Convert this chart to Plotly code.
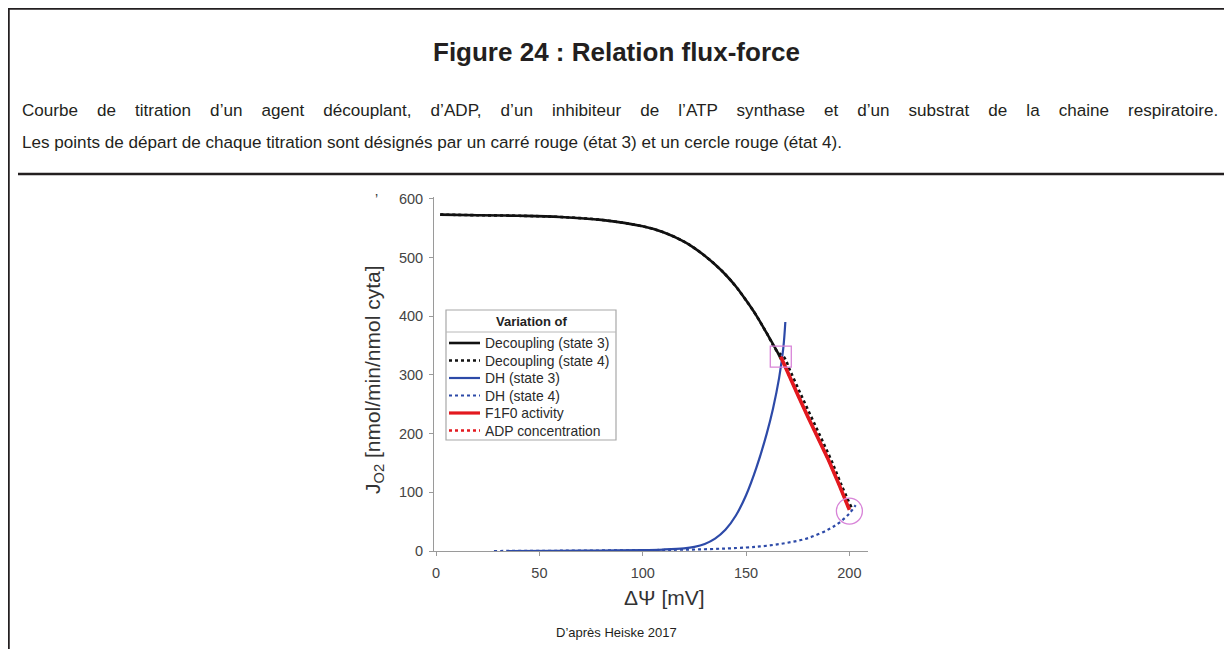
import plotly.graph_objects as go

# ---------------- data ----------------
dec3_x = [2, 20, 40, 60, 80, 100, 110, 120, 125, 130, 135, 140, 145, 150, 155, 160, 165, 167]
dec3_y = [573, 572, 571, 569, 564, 553, 543, 527, 516, 503, 488, 471, 451, 427, 401, 371, 340, 326]

dec4_x = [2, 20, 40, 60, 80, 100, 110, 120, 125, 130, 135, 140, 145, 150, 155, 160, 165, 168.2, 171.6, 176.6, 181.6, 186.5, 191.3, 196.1, 201]
dec4_y = [573, 572, 571, 569, 564, 553, 543, 527, 516, 503, 488, 471, 451, 427, 401, 371, 340, 331, 305, 266, 228, 191, 154, 113, 74]

dh3_x = [35, 60, 80, 100, 110, 120, 125, 130, 135, 140, 145, 150, 155, 160, 163, 166, 168, 169]
dh3_y = [0, 0.3, 0.8, 1.5, 2.5, 4.5, 7, 12, 21, 36, 60, 95, 142, 200, 242, 295, 345, 390]

dh4_x = [28, 60, 100, 130, 150, 160, 170, 180, 190, 195, 200, 203]
dh4_y = [0, 0.5, 1.5, 3, 6, 9, 14, 22, 37, 48, 64, 78]

f1f0_x = [166.8, 170, 175, 180, 185, 190, 195, 200]
f1f0_y = [331, 305, 266, 228, 191, 154, 113, 70]

adp_x = f1f0_x
adp_y = f1f0_y

state3_start = (166.8, 331)
state4_start = (200, 68)

x_ticks = [0, 50, 100, 150, 200]
y_ticks = [0, 100, 200, 300, 400, 500, 600]

# ---------------- layout helpers ----------------
OFF = 8                      # page margin of the html body
W, H = 1232 - OFF, 649 - OFF
# plot area, in page pixels
L, R, T, B = 434, 868, 197, 551


def px(xp):
    return (xp - L) / (R - L)


def py(yp):
    return (B - yp) / (B - T)


FONT = "Arial, Liberation Sans, Helvetica, sans-serif"
BLACK = "#111111"
BLUE = "#2d4aa8"
RED = "#e3191f"
PINK = "#d884d8"

series = [
    (dec3_x, dec3_y, "Decoupling (state 3)", BLACK, 2.6, "solid"),
    (dec4_x, dec4_y, "Decoupling (state 4)", BLACK, 2.6, "dot"),
    (dh3_x, dh3_y, "DH (state 3)", BLUE, 2.2, "solid"),
    (dh4_x, dh4_y, "DH (state 4)", BLUE, 2.2, "dot"),
    (f1f0_x, f1f0_y, "F1F0 activity", RED, 3.6, "solid"),
    (adp_x, adp_y, "ADP concentration", RED, 2.6, "dot"),
]

fig = go.Figure()
for xs, ys, name, col, wd, dash in series:
    fig.add_trace(go.Scatter(x=xs, y=ys, mode="lines", name=name, showlegend=False,
                             line=dict(color=col, width=wd, dash=dash,
                                       shape="spline" if "F1F0" not in name and "ADP" not in name else "linear")))
fig.add_trace(go.Scatter(x=[state3_start[0]], y=[state3_start[1]], mode="markers", showlegend=False,
                         marker=dict(symbol="square-open", size=21, color=PINK, line=dict(width=1.3, color=PINK))))
fig.add_trace(go.Scatter(x=[state4_start[0]], y=[state4_start[1]], mode="markers", showlegend=False,
                         marker=dict(symbol="circle-open", size=26, color=PINK, line=dict(width=1.3, color=PINK))))

axis_common = dict(showgrid=False, zeroline=False, showline=True, linecolor="#9a9a9a", linewidth=1,
                   ticks="outside", ticklen=4, tickcolor="#9a9a9a",
                   tickfont=dict(family=FONT, size=14.5, color="#444444"))

fig.update_layout(
    width=W, height=H,
    margin=dict(l=L - OFF, r=W - (R - OFF), t=T - OFF, b=H - (B - OFF), pad=0),
    paper_bgcolor="white", plot_bgcolor="white",
    font=dict(family=FONT, color="#222222"),
    xaxis=dict(range=[-1, 209], tickvals=x_ticks, ticklabelstandoff=5, **axis_common),
    yaxis=dict(range=[0, 603], tickvals=y_ticks, ticklabelstandoff=3, **axis_common),
    showlegend=False,
)

# frame lines
line_style = dict(color="#231f20", width=2.5)
fig.add_shape(type="line", xref="paper", yref="paper", x0=px(OFF - 1), x1=px(1240), y0=py(OFF + 0.5), y1=py(OFF + 0.5), line=line_style)
fig.add_shape(type="line", xref="paper", yref="paper", x0=px(OFF + 0.5), x1=px(OFF + 0.5), y0=py(OFF - 1), y1=py(660), line=line_style)
fig.add_shape(type="line", xref="paper", yref="paper", x0=px(18), x1=px(1226), y0=py(174), y1=py(174), line=line_style)

# ---------------- legend (drawn as a boxed key) ----------------
LG_L, LG_R, LG_T, LG_B = 446, 616, 310, 440
fig.add_shape(type="rect", xref="paper", yref="paper", x0=px(LG_L), x1=px(LG_R), y0=py(LG_T), y1=py(LG_B),
              line=dict(color="#a8a8a8", width=1.2), fillcolor="white", layer="above")
fig.add_shape(type="line", xref="paper", yref="paper", x0=px(LG_L), x1=px(LG_R), y0=py(332), y1=py(332),
              line=dict(color="#b8b8b8", width=1), layer="above")
fig.add_annotation(x=px(531), y=py(321), xref="paper", yref="paper", xanchor="center", yanchor="middle",
                   showarrow=False, text="<b>Variation of</b>",
                   font=dict(family=FONT, size=13, color="#222222"))
entry_y = [343, 360.5, 378, 395.5, 413, 430.5]
for (xs, ys, name, col, wd, dash), yy in zip(series, entry_y):
    fig.add_shape(type="line", xref="paper", yref="paper", x0=px(449), x1=px(480), y0=py(yy), y1=py(yy),
                  line=dict(color=col, width=min(wd, 3.2), dash=dash), layer="above")
    fig.add_annotation(x=px(483), y=py(yy), xref="paper", yref="paper", xanchor="left", yanchor="middle",
                       showarrow=False, text=name, font=dict(family=FONT, size=13.9, color="#2a2a2a"))

# axis titles
fig.add_annotation(x=px(664), y=py(597), xref="paper", yref="paper", xanchor="center", yanchor="middle",
                   showarrow=False, text="ΔΨ [mV]", font=dict(family=FONT, size=21, color="#333333"))
fig.add_annotation(x=px(374), y=py(380), xref="paper", yref="paper", xanchor="center", yanchor="middle",
                   showarrow=False, textangle=-90, text="J<sub>O2</sub> [nmol/min/nmol cyta]",
                   font=dict(family=FONT, size=21, color="#333333"))
fig.add_annotation(x=px(376), y=py(199), xref="paper", yref="paper", xanchor="center", yanchor="middle",
                   showarrow=False, text="’", font=dict(family=FONT, size=14, color="#333333"))

# texts of the page
fig.add_annotation(x=px(616), y=py(52), xref="paper", yref="paper", xanchor="center", yanchor="middle",
                   showarrow=False, text="<b>Figure 24 : Relation flux-force</b>",
                   font=dict(family=FONT, size=26, color="#231f20"))
line1_words = "Courbe de titration d’un agent découplant, d’ADP, d’un inhibiteur de l’ATP synthase et d’un substrat de la chaine respiratoire.".split(" ")
line1 = (" " + "\u00a0" * 3).join(line1_words)
fig.add_annotation(x=px(20), y=py(110), xref="paper", yref="paper", xanchor="left", yanchor="middle",
                   showarrow=False, text=line1, font=dict(family=FONT, size=17.1, color="#231f20"))
fig.add_annotation(x=px(20), y=py(142), xref="paper", yref="paper", xanchor="left", yanchor="middle",
                   showarrow=False,
                   text="Les points de départ de chaque titration sont désignés par un carré rouge (état 3) et un cercle rouge (état 4).",
                   font=dict(family=FONT, size=17.1, color="#231f20"))
fig.add_annotation(x=px(616), y=py(632), xref="paper", yref="paper", xanchor="center", yanchor="middle",
                   showarrow=False, text="D’après Heiske 2017",
                   font=dict(family=FONT, size=13, color="#231f20"))

fig.write_html("out.html")
